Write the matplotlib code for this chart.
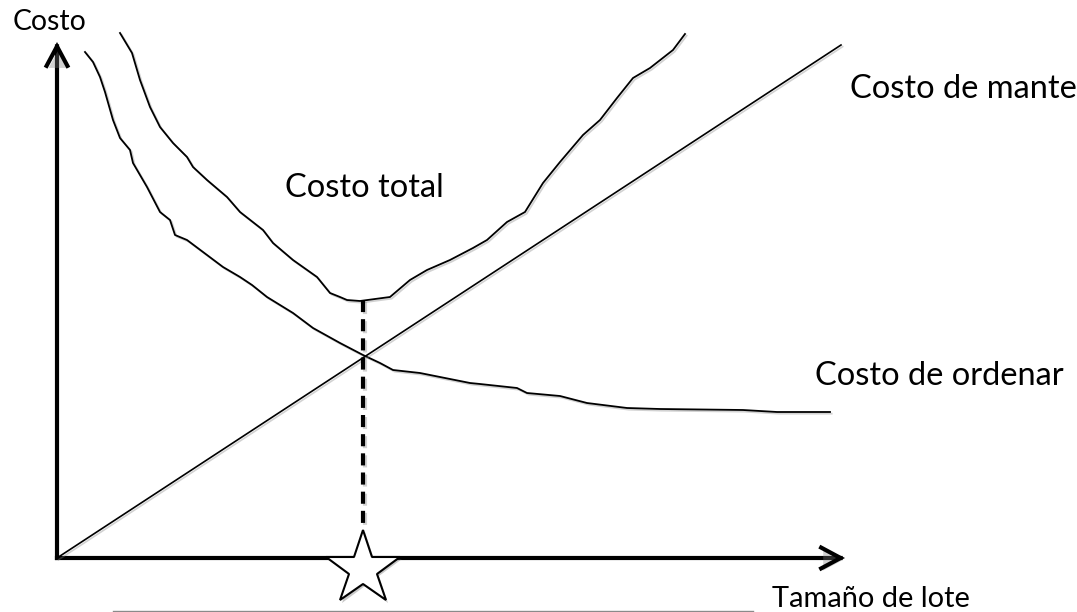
import matplotlib
matplotlib.use('Agg')
import matplotlib.pyplot as plt
import matplotlib.patheffects as pe
from matplotlib.patches import FancyArrowPatch

# Datos (unidades arbitrarias, origen en el cruce de ejes)
orden_x = [28, 36, 43, 48, 56, 63, 73, 76, 90, 103, 113, 118, 130, 146, 166, 183, 195, 210,
           223, 236, 256, 283, 306, 323, 336, 363, 413, 423, 460, 470, 503, 530, 570, 603,
           686, 720, 773]
orden_y = [506, 496, 481, 466, 438, 420, 408, 395, 371, 346, 338, 323, 318, 306, 291, 281, 273,
           261, 253, 245, 230, 215, 203, 195, 188, 185, 175, 174, 170, 165, 162, 155, 150, 149,
           148, 146, 146]

total_x = [63, 75, 83, 93, 103, 116, 130, 136, 150, 170, 183, 206, 216, 236, 260, 273, 283, 290,
           303, 333, 353, 370, 393, 416, 430, 450, 468, 486, 503, 526, 543, 560, 576, 593, 616, 628]
total_y = [525, 505, 478, 451, 431, 415, 401, 391, 378, 361, 346, 328, 315, 298, 281, 265, 261,
           258, 257, 261, 278, 288, 298, 310, 318, 336, 346, 375, 396, 423, 438, 460, 480, 490,
           508, 524]

mant_x = [0, 784]
mant_y = [0, 513]

q_opt = 306
costo_min = 258

sombra = [pe.SimpleLineShadow(offset=(1.2, -1.2), shadow_color='gray', alpha=0.35), pe.Normal()]

fig = plt.figure(figsize=(10.77, 6.12), dpi=100)
ax = fig.add_axes([0, 0, 1, 1])
ax.set_xlim(-57, 1020)
ax.set_ylim(-54, 558)
ax.axis('off')

# Curvas
ax.plot(orden_x, orden_y, color='black', lw=1.3, solid_joinstyle='round', path_effects=sombra)
ax.plot(total_x, total_y, color='black', lw=1.3, solid_joinstyle='round', path_effects=sombra)
ax.plot(mant_x, mant_y, color='black', lw=1.2, path_effects=sombra)

# Linea punteada del lote optimo
ax.plot([q_opt, q_opt], [costo_min, 28], color='black', lw=3, linestyle=(0, (2.9, 1.7)),
        dash_capstyle='butt', path_effects=sombra)

# Ejes con flechas
for (x0, y0, x1, y1) in [(0, 0, 0, 516), (0, 0, 788, 0)]:
    arr = FancyArrowPatch((x0, y0), (x1, y1), arrowstyle='->,head_length=1.4,head_width=0.75',
                          mutation_scale=10, color='black', lw=3, capstyle='projecting',
                          joinstyle='miter', shrinkA=0, shrinkB=0)
    arr.set_path_effects([pe.SimplePatchShadow(offset=(1.5, -1.5), shadow_rgbFace='gray', alpha=0.35),
                          pe.Normal()])
    ax.add_patch(arr)

# Linea gris debajo del eje
ax.plot([56, 696], [-53, -53], color='#8a8a8a', lw=1.0)

# Estrella
ax.plot([q_opt], [-11], marker='*', ms=56, markerfacecolor='white', markeredgecolor='black',
        markeredgewidth=1.5, zorder=5,
        path_effects=[pe.SimplePatchShadow(offset=(1.5, -1.5), alpha=0.3), pe.Normal()])

fuente = 'Lato'
ax.text(-44, 528, 'Costo', fontsize=20.4, family=fuente, ha='left', va='baseline')
ax.text(228, 361, 'Costo total', fontsize=23.5, family=fuente, ha='left', va='baseline')
# en el original este texto queda cortado por el borde derecho
ax.text(793, 460, 'Costo de mantenimiento', fontsize=23.5, family=fuente, ha='left', va='baseline')
ax.text(758, 173, 'Costo de ordenar', fontsize=23.5, family=fuente, ha='left', va='baseline')
ax.text(715, -49, 'Tamaño de lote', fontsize=20.9, family=fuente, ha='left', va='baseline')

fig.savefig('out.png', dpi=100)
